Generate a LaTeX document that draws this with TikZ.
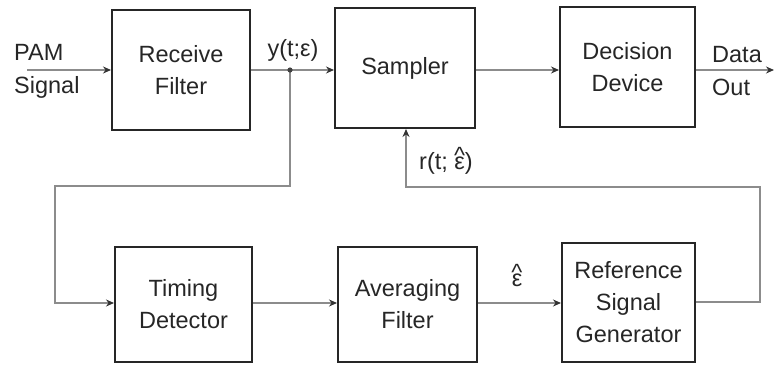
\documentclass[tikz,border=0pt]{standalone}
\usepackage{fontspec}
\setmainfont{Liberation Sans}
\usetikzlibrary{arrows.meta}
\newcommand\epshat{\ooalign{ε\cr\hidewidth\raisebox{6pt}{\^{}}\hidewidth\cr}}
\tikzset{
  blk/.style={draw=black!85, line width=2pt, minimum width=#1, minimum height=120pt, inner sep=0pt, align=center, font=\fontsize{23.5}{32}\selectfont, text=black!85},
  blk/.default=138pt,
  conn/.style={draw=black!45, line width=1.4pt, -{Stealth[length=8pt,width=7pt,black!80]}},
  lbl/.style={font=\fontsize{23.5}{33}\selectfont, text=black!85, align=left, inner sep=0pt},
}
\begin{document}
\begin{tikzpicture}[x=1pt,y=-1pt]
\useasboundingbox (0,0) rectangle (775,364);
% blocks
\node[blk=138pt, minimum height=120pt] (rf) at (181,70) {Receive\\Filter};
\node[blk=140pt, minimum height=120pt] (samp) at (405,68) {Sampler};
\node[blk=135pt, minimum height=120pt] (dec) at (627.5,67) {Decision\\Device};
\node[blk=137pt, minimum height=115pt] (td) at (183.5,304.5) {Timing\\Detector};
\node[blk=139pt, minimum height=115pt] (af) at (407.5,304.5) {Averaging\\Filter};
\node[blk=133pt, minimum height=119pt] (rsg) at (628.5,302.5) {Reference\\Signal\\Generator};
% coordinates
\coordinate (in) at (27,70);
\coordinate (out) at (774,70);
\coordinate (br) at (290,70);
\coordinate (l1) at (290,186);
\coordinate (l2) at (55,186);
\coordinate (l3) at (55,303);
\coordinate (r1) at (760,302);
\coordinate (r2) at (760,187);
\coordinate (r3) at (406,187);
% labels
\node[lbl, anchor=west] (pam) at (14,71) {PAM\\Signal};
\node[lbl, anchor=west] (dout) at (712,71) {Data\\Out};
\node[lbl] (ylab) at (293,50) {y(t;ε)};
\node[lbl] (rlab) at (446,163) {r(t; \epshat)};
\node[lbl] (elab) at (517,280) {\epshat};
% connectors
\draw[conn] (in) -- (rf.west |- in);
\draw[conn] (rf.east |- br) -- (samp.west |- br);
\draw[conn] (samp.east |- br) -- (dec.west |- br);
\draw[conn] (dec.east |- br) -- (out);
\draw[conn] (br) -- (l1) -- (l2) -- (l3) -- (td.west |- l3);
\draw[conn] (td.east |- l3) -- (af.west |- l3);
\draw[conn] (af.east |- l3) -- (rsg.west |- l3);
\draw[conn] (rsg.east |- r1) -- (r1) -- (r2) -- (r3) -- (samp.south -| r3);
\fill[black!75] (br) circle (2.6pt);
\end{tikzpicture}
\end{document}
